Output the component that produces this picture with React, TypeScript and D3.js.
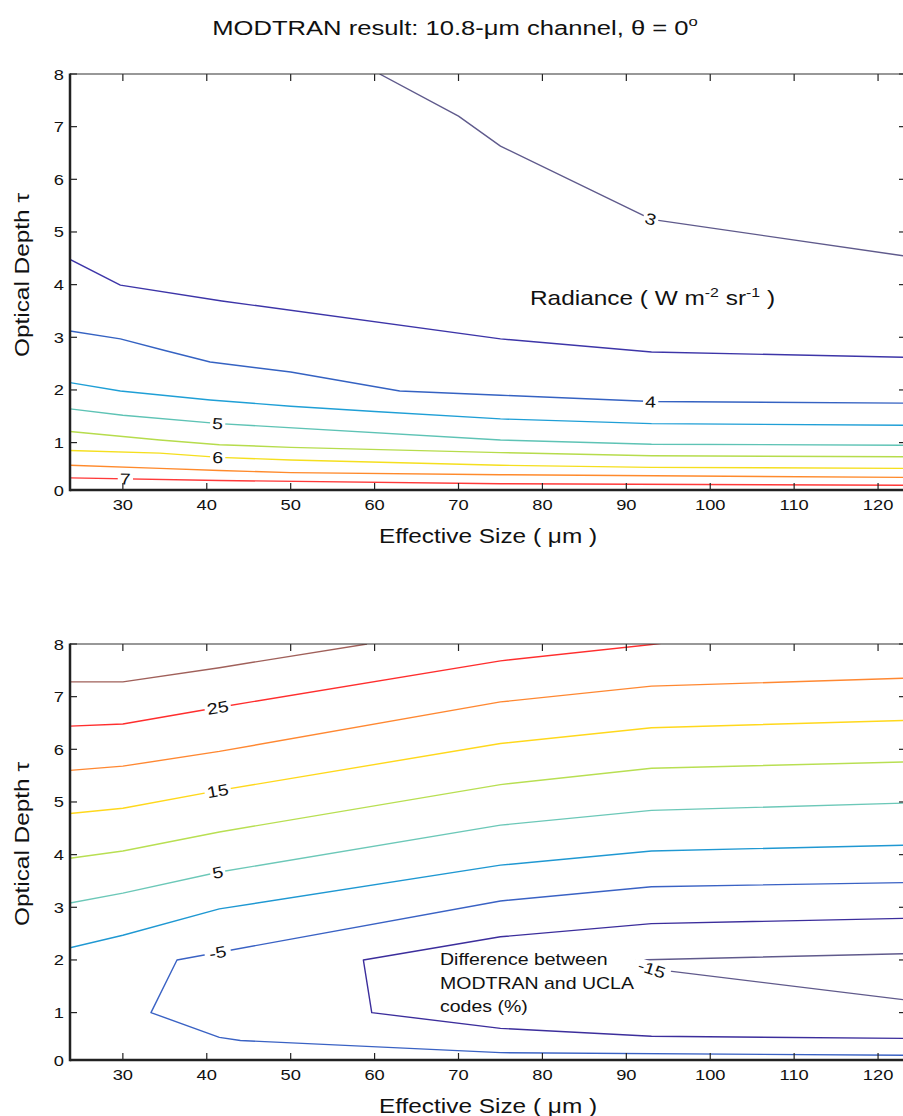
import React from 'react';
import * as d3 from 'd3';

// ---------- data ----------
const xTicks = [30, 40, 50, 60, 70, 80, 90, 100, 110, 120];
const yTicks = [0, 1, 2, 3, 4, 5, 6, 7, 8];
const xDomain = [23.7, 123.33];
const yDomain = [0.1, 8];

// Radiance contours (W m-2 sr-1): [effective size, optical depth]
const radLevels = [3, 3.5, 4, 4.5, 5, 5.5, 6, 6.5, 7];
const radColors = ['#5f5a8c', '#3d35a8', '#3562c2', '#1f9fd6', '#5ec3b5', '#b6dc4c', '#f5df1e', '#ff8a2c', '#ff3a3a'];
const rad30 = [[60.6, 8], [70, 7.2], [75, 6.63], [93, 5.24], [123.3, 4.54]];
const rad35 = [[23.7, 4.48], [29.7, 3.99], [41.8, 3.69], [75, 2.97], [93, 2.72], [123.3, 2.62]];
const rad40 = [[23.7, 3.12], [29.7, 2.97], [35, 2.75], [40.4, 2.53], [50, 2.34], [63, 1.98], [75, 1.9], [93, 1.78], [123.3, 1.75]];
const rad45 = [[23.7, 2.14], [29.7, 1.98], [40.4, 1.81], [50, 1.69], [60, 1.59], [75, 1.45], [93, 1.36], [123.3, 1.33]];
const rad50 = [[23.7, 1.64], [30, 1.52], [41.5, 1.36], [75, 1.05], [93, 0.97], [123.3, 0.95]];
const rad55 = [[23.7, 1.21], [34.4, 1.05], [41.5, 0.96], [50, 0.91], [75, 0.81], [93, 0.75], [123.3, 0.73]];
const rad60 = [[23.7, 0.85], [34.4, 0.8], [41.5, 0.72], [50, 0.67], [75, 0.57], [93, 0.53], [123.3, 0.51]];
const rad65 = [[23.7, 0.57], [34.4, 0.51], [41.5, 0.47], [50, 0.43], [75, 0.39], [123.3, 0.34]];
const rad70 = [[23.7, 0.33], [41.5, 0.28], [75, 0.22], [123.3, 0.19]];
const radLines = [rad30, rad35, rad40, rad45, rad50, rad55, rad60, rad65, rad70];
const radLabelLevels = [3, 4, 5, 6, 7];
const radLabelX = [92.9, 92.9, 41.3, 41.3, 30.3];

// Difference contours (%)
const diffLevels = [30, 25, 20, 15, 10, 5, 0, -5, -10, -15];
const diffColors = ['#a0605a', '#ff2e2e', '#ff8832', '#ffd81c', '#b8df52', '#6cc8b8', '#1f98d2', '#3a62c4', '#3c2e9c', '#605a8c'];
const d30 = [[23.7, 7.28], [30, 7.28], [41.5, 7.55], [59.1, 8.0]];
const d25 = [[23.7, 6.44], [30, 6.48], [41.5, 6.8], [75, 7.68], [93, 7.99], [96, 8.05]];
const d20 = [[23.7, 5.6], [30, 5.68], [41.5, 5.96], [75, 6.9], [93, 7.2], [123.3, 7.35]];
const d15 = [[23.7, 4.78], [30, 4.88], [41.5, 5.22], [75, 6.11], [93, 6.41], [123.3, 6.55]];
const d10 = [[23.7, 3.93], [30, 4.07], [41.5, 4.43], [75, 5.33], [93, 5.64], [123.3, 5.76]];
const d5 = [[23.7, 3.08], [30, 3.27], [41.5, 3.67], [75, 4.56], [93, 4.84], [123.3, 4.98]];
const d0 = [[23.7, 2.23], [30, 2.47], [41.5, 2.97], [75, 3.8], [93, 4.07], [123.3, 4.18]];
const dm5 = [[123.3, 3.47], [93, 3.39], [75, 3.12], [36.45, 2.0], [33.35, 1.0], [41.5, 0.53], [44, 0.47], [75, 0.24], [123.3, 0.19]];
const dm10 = [[123.3, 2.79], [93, 2.69], [75, 2.44], [58.66, 2.0], [59.66, 1.0], [75, 0.7], [93, 0.55], [123.3, 0.51]];
const dm15 = [[123.3, 1.24], [93, 1.83], [91.2, 2.0], [123.3, 2.12]];
const diffLines = [d30, d25, d20, d15, d10, d5, d0, dm5, dm10, dm15];
const diffLabelLevels = [25, 15, 5, -5, -15];
const diffLabelX = [41.3, 41.3, 41.3, 41.3, 93.04];

// ---------- layout ----------
const W = 903;
const H = 1116;
const LEFT = 70;
const RIGHT = 906;
const FONT = 'Liberation Sans, Arial, Helvetica, sans-serif';
const STRETCH = 1.22;

function SText(props: any) {
  const { x, y, rotate = 0, stretch = STRETCH, size = 15, anchor = 'start', children, ...rest } = props;
  return (
    <text
      transform={`translate(${x},${y}) rotate(${rotate}) scale(${stretch},1)`}
      fontFamily={FONT}
      fontSize={size}
      textAnchor={anchor}
      fill="#111"
      {...rest}
    >
      {children}
    </text>
  );
}

function labelPlacement(pts: number[][], px: number) {
  const cum = [0];
  for (let i = 1; i < pts.length; i++) {
    cum.push(cum[i - 1] + Math.hypot(pts[i][0] - pts[i - 1][0], pts[i][1] - pts[i - 1][1]));
  }
  let s = 0;
  for (let i = 1; i < pts.length; i++) {
    const a = pts[i - 1], b = pts[i];
    if ((a[0] - px) * (b[0] - px) <= 0 && a[0] !== b[0]) {
      const t = (px - a[0]) / (b[0] - a[0]);
      s = cum[i - 1] + t * (cum[i] - cum[i - 1]);
      break;
    }
  }
  const at = (ss: number) => {
    ss = Math.max(0, Math.min(cum[cum.length - 1], ss));
    for (let i = 1; i < pts.length; i++) {
      if (ss <= cum[i]) {
        const t = (ss - cum[i - 1]) / (cum[i] - cum[i - 1] || 1);
        return [pts[i - 1][0] + t * (pts[i][0] - pts[i - 1][0]), pts[i - 1][1] + t * (pts[i][1] - pts[i - 1][1])];
      }
    }
    return pts[pts.length - 1];
  };
  const p = at(s);
  const p1 = at(s - 8);
  const p2 = at(s + 8);
  let ang = (Math.atan2(p2[1] - p1[1], p2[0] - p1[0]) * 180) / Math.PI;
  if (ang > 90) ang -= 180;
  if (ang < -90) ang += 180;
  return { x: p[0], y: p[1], ang };
}

function Panel(props: any) {
  const { top, bottom, lines, colors, levels, labelLevels, labelX, id, yLabelShift } = props;
  const xs = d3.scaleLinear().domain(xDomain).range([LEFT, RIGHT]);
  const ys = d3.scaleLinear().domain(yDomain).range([bottom, top]).clamp(true);
  const ysRaw = d3.scaleLinear().domain(yDomain).range([bottom, top]);
  const line = d3.line<number[]>().x((d) => xs(d[0])).y((d) => ysRaw(d[1]));
  const tick = 7;
  return (
    <g>
      <defs>
        <clipPath id={id}>
          <rect x={LEFT} y={top} width={RIGHT - LEFT} height={bottom - top} />
        </clipPath>
      </defs>
      <g clipPath={`url(#${id})`}>
        {lines.map((pts: number[][], i: number) => (
          <path key={i} d={line(pts) || ''} fill="none" stroke={colors[i]} strokeWidth={1.4} strokeLinejoin="round" />
        ))}
        {labelLevels.map((lv: number, i: number) => {
          const idx = levels.indexOf(lv);
          const pix = lines[idx].map((d: number[]) => [xs(d[0]), ysRaw(d[1])]);
          const pl = labelPlacement(pix, xs(labelX[i]));
          const txt = String(lv);
          const w = txt.length * 9.2 * STRETCH + 4;
          return (
            <g key={'l' + i} transform={`translate(${pl.x},${pl.y}) rotate(${pl.ang})`}>
              <rect x={-w / 2} y={-7} width={w} height={14} fill="#fff" />
              <text
                transform={`scale(${STRETCH},1)`}
                fontFamily={FONT}
                fontSize={16}
                textAnchor="middle"
                dy="0.36em"
                fill="#111"
              >
                {txt}
              </text>
            </g>
          );
        })}
      </g>
      {xTicks.map((t) => (
        <g key={'xt' + t}>
          <line x1={xs(t)} x2={xs(t)} y1={bottom} y2={bottom - tick} stroke="#222" strokeWidth={1.2} />
          <line x1={xs(t)} x2={xs(t)} y1={top} y2={top + tick} stroke="#222" strokeWidth={1.2} />
          <SText x={xs(t)} y={bottom + 20} anchor="middle" size={15}>
            {t}
          </SText>
        </g>
      ))}
      {yTicks.map((t) => (
        <g key={'yt' + t}>
          <line x1={LEFT} x2={LEFT + tick} y1={ys(t)} y2={ys(t)} stroke="#222" strokeWidth={1.2} />
          <line x1={RIGHT} x2={RIGHT - tick} y1={ys(t)} y2={ys(t)} stroke="#222" strokeWidth={1.2} />
          <SText x={LEFT - 6} y={ys(t) + 5.5} anchor="end" size={15}>
            {t}
          </SText>
        </g>
      ))}
      <line x1={LEFT} x2={RIGHT} y1={top} y2={top} stroke="#333" strokeWidth={1.2} />
      <line x1={LEFT} x2={LEFT} y1={top - 0.6} y2={bottom + 1.2} stroke="#222" strokeWidth={2.5} />
      <line x1={LEFT} x2={RIGHT} y1={bottom} y2={bottom} stroke="#222" strokeWidth={2.5} />
      <SText x={(LEFT + RIGHT) / 2} y={bottom + 53} anchor="middle" size={20}>
        Effective Size ( μm )
      </SText>
      <SText x={29} y={(top + bottom) / 2 + yLabelShift} anchor="middle" size={20} rotate={-90}>
        Optical Depth τ
      </SText>
    </g>
  );
}

export default function App() {
  return (
    <svg
      width={W}
      height={H}
      viewBox={`0 0 ${W} ${H}`}
      style={{ position: 'absolute', left: 0, top: 0, background: '#fff' }}
    >
      <rect x={0} y={0} width={W} height={H} fill="#fff" />
      <SText x={455} y={35} anchor="middle" size={20} stretch={1.28}>
        MODTRAN result: 10.8-μm channel, θ = 0
        <tspan fontSize={13} dy={-9}>o</tspan>
      </SText>
      <Panel
        id="clipTop"
        top={74}
        bottom={490}
        lines={radLines}
        colors={radColors}
        levels={radLevels}
        labelLevels={radLabelLevels}
        labelX={radLabelX}
        yLabelShift={-7}
      />
      <SText x={530} y={305} size={20}>
        Radiance ( W m
        <tspan fontSize={13} dy={-8}>-2</tspan>
        <tspan dy={8}> sr</tspan>
        <tspan fontSize={13} dy={-8}>-1</tspan>
        <tspan dy={8}> )</tspan>
      </SText>
      <Panel
        id="clipBottom"
        top={644}
        bottom={1060}
        lines={diffLines}
        colors={diffColors}
        levels={diffLevels}
        labelLevels={diffLabelLevels}
        labelX={diffLabelX}
        yLabelShift={-8}
      />
      <SText x={440} y={965} size={16}>Difference between</SText>
      <SText x={440} y={989} size={16}>MODTRAN and UCLA</SText>
      <SText x={440} y={1012} size={16}>codes (%)</SText>
    </svg>
  );
}
